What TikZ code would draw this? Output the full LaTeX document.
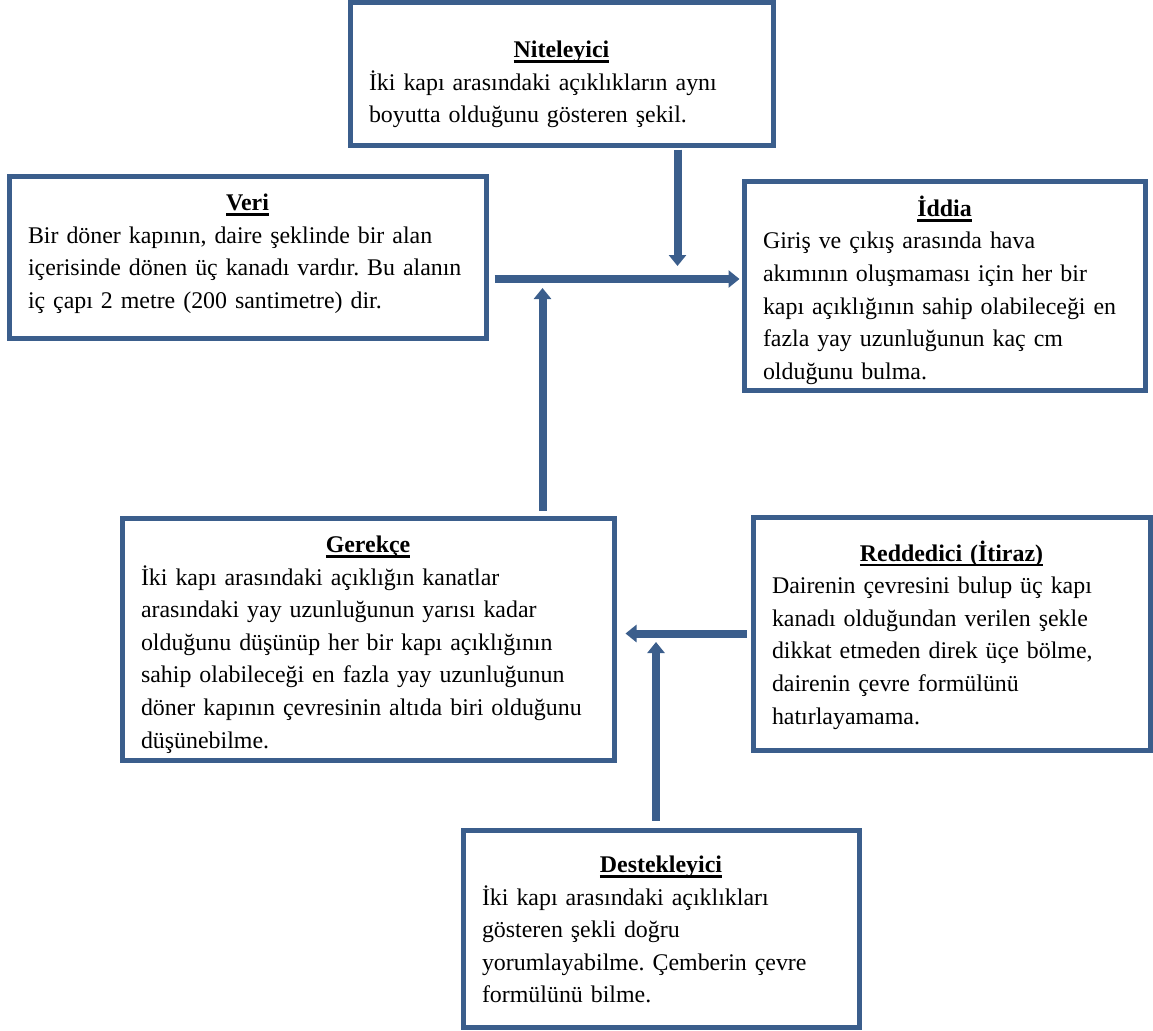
\documentclass[tikz,border=0pt]{standalone}
\usepackage{fontspec}
\setmainfont{Liberation Serif}
\usetikzlibrary{arrows.meta}
\definecolor{bc}{RGB}{59,94,140}
\frenchspacing
% centred bold title with a heavy underline; #1 is the height the title line
% takes up, which sets how far down the text block sits in its box
\newsavebox\ttlbox
\newcommand{\boxtitle}[2]{\sbox\ttlbox{\textbf{#2}}%
  \raisebox{0pt}[#1pt][5.3pt]{\makebox[\linewidth][c]{%
    \rlap{\usebox\ttlbox}\rule[-5.3pt]{\wd\ttlbox}{2.6pt}}}}
\begin{document}
\begin{tikzpicture}[x=1pt,y=-1pt,
  box/.style={draw=bc, line width=5pt, inner sep=0pt, align=left,
    font=\fontsize{23.9}{32.6}\selectfont},
  arr/.style={draw=bc, line width=8pt, -{Triangle[width=17pt,length=11pt]}}]
\useasboundingbox (0,0) rectangle (1153,1030);

\node[box, minimum width=423pt, minimum height=142pt, text width=385pt]
  (nit) at (561.5,74) {\boxtitle{42}{Niteleyici}\\
  İki kapı arasındaki açıklıkların aynı\\
  boyutta olduğunu gösteren şekil.\strut};

\node[box, minimum width=477pt, minimum height=162pt, text width=439pt]
  (veri) at (247.5,257) {\boxtitle{14.5}{Veri}\\
  Bir döner kapının, daire şeklinde bir alan\\
  içerisinde dönen üç kanadı vardır. Bu alanın\\
  iç çapı 2 metre (200 santimetre) dir.\strut};

\node[box, minimum width=401pt, minimum height=209pt, text width=363pt]
  (iddia) at (944.5,285.5) {\boxtitle{34.5}{İddia}\\
  Giriş ve çıkış arasında hava\\
  akımının oluşmaması için her bir\\
  kapı açıklığının sahip olabileceği en\\
  fazla yay uzunluğunun kaç cm\\
  olduğunu bulma.\strut};

\node[box, minimum width=492pt, minimum height=242pt, text width=454pt]
  (ger) at (368,639) {\boxtitle{32.5}{Gerekçe}\\
  İki kapı arasındaki açıklığın kanatlar\\
  arasındaki yay uzunluğunun yarısı kadar\\
  olduğunu düşünüp her bir kapı açıklığının\\
  sahip olabileceği en fazla yay uzunluğunun\\
  döner kapının çevresinin altıda biri olduğunu\\
  düşünebilme.\strut};

\node[box, minimum width=397pt, minimum height=233pt, text width=359pt]
  (red) at (951.5,633.5) {\boxtitle{28}{Reddedici (İtiraz)}\\
  Dairenin çevresini bulup üç kapı\\
  kanadı olduğundan verilen şekle\\
  dikkat etmeden direk üçe bölme,\\
  dairenin çevre formülünü\\
  hatırlayamama.\strut};

\node[box, minimum width=396pt, minimum height=197pt, text width=358pt]
  (des) at (661,928.5) {\boxtitle{28}{Destekleyici}\\
  İki kapı arasındaki açıklıkları\\
  gösteren şekli doğru\\
  yorumlayabilme. Çemberin çevre\\
  formülünü bilme.\strut};

% free ends and levels of the connectors
\coordinate (j1) at (677.5,266);
\coordinate (h2) at (0,279);
\coordinate (j3) at (542.5,288);
\coordinate (h4) at (0,633.5);
\coordinate (j5) at (656,642);

\draw[arr, shorten <=2pt] (nit.south -| j1) -- (j1);
\draw[arr, shorten <=6pt, shorten >=2pt] (veri.east |- h2) -- (iddia.west |- h2);
\draw[arr, shorten <=5pt] (ger.north -| j3) -- (j3);
\draw[arr, shorten <=4pt, shorten >=9pt] (red.west |- h4) -- (ger.east |- h4);
\draw[arr, shorten <=7pt] (des.north -| j5) -- (j5);
\end{tikzpicture}
\end{document}
